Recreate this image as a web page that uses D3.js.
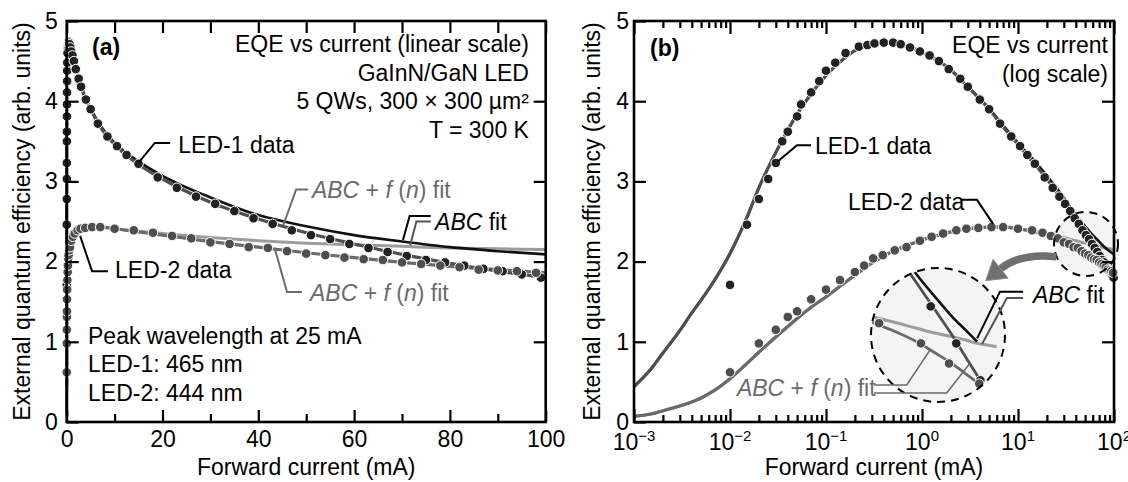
<!DOCTYPE html>
<html>
<head>
<meta charset="utf-8">
<script src="https://cdn.jsdelivr.net/npm/d3@7/dist/d3.min.js"></script>
<style>
  html, body { margin: 0; padding: 0; background: #fff; }
  svg text { font-family: "Liberation Sans", Arial, Helvetica, sans-serif; white-space: pre; }
</style>
</head>
<body>
<svg id="chart" width="1128" height="482"></svg>
<script>
// ---- measured EQE (forward current in mA, EQE in arb. units) ----
const led1Current = [0.01, 0.015, 0.02, 0.025, 0.03, 0.035, 0.04, 0.05, 0.055, 0.07,
  0.085, 0.1, 0.125, 0.16, 0.22, 0.27, 0.32, 0.4, 0.5, 0.6,
  0.75, 0.95, 1.2, 1.5, 1.9, 2.5, 3, 4, 5, 6.5,
  8.5, 10.5, 12.5, 15, 19, 23, 27, 31, 35, 39,
  43, 47, 51, 55, 59, 63, 67, 71, 75, 79,
  83, 87, 91, 95, 99];
const led1EQE = [1.71, 2.46, 2.78, 3.03, 3.23, 3.50, 3.62, 3.81, 3.96, 4.11,
  4.25, 4.38, 4.48, 4.60, 4.68, 4.70, 4.72, 4.73, 4.73, 4.71,
  4.67, 4.62, 4.57, 4.50, 4.40, 4.28, 4.18, 4.02, 3.90, 3.72,
  3.56, 3.44, 3.33, 3.22, 3.05, 2.92, 2.81, 2.72, 2.63, 2.54,
  2.47, 2.39, 2.33, 2.28, 2.22, 2.17, 2.12, 2.07, 2.02, 1.99,
  1.95, 1.91, 1.88, 1.84, 1.80];

const led2Current = [0.01, 0.02, 0.03, 0.04, 0.05, 0.07, 0.1, 0.14, 0.2, 0.25,
  0.31, 0.39, 0.52, 0.69, 0.95, 1.26, 1.66, 2.28, 2.9, 3.86,
  5.3, 7, 10, 14, 18, 22, 26, 30, 34, 38,
  42, 46, 50, 54, 58, 62, 66, 70, 74, 78,
  82, 86, 90, 94, 98];
const led2EQE = [0.62, 0.98, 1.15, 1.31, 1.38, 1.53, 1.65, 1.77, 1.87, 1.95,
  2.04, 2.08, 2.14, 2.18, 2.26, 2.31, 2.35, 2.39, 2.41, 2.42,
  2.43, 2.43, 2.41, 2.39, 2.36, 2.32, 2.29, 2.24, 2.22, 2.18,
  2.17, 2.13, 2.10, 2.08, 2.05, 2.03, 2.02, 1.99, 1.97, 1.95,
  1.93, 1.90, 1.89, 1.88, 1.86];

// ---- model curves sampled on a common current grid ----
const fitCurrent = [0.001, 0.0015, 0.002, 0.003, 0.004, 0.005, 0.007, 0.01, 0.015, 0.02,
  0.03, 0.04, 0.05, 0.07, 0.1, 0.15, 0.2, 0.3, 0.4, 0.5,
  0.7, 1, 1.5, 2, 3, 5, 7, 10, 15, 20,
  30, 40, 50, 60, 70, 80, 90, 100];
const led1FitABCf = [0.44, 0.66, 0.86, 1.14, 1.36, 1.52, 1.78, 2.10, 2.55, 2.92,
  3.36, 3.64, 3.84, 4.09, 4.32, 4.52, 4.63, 4.71, 4.73, 4.73,
  4.69, 4.61, 4.50, 4.39, 4.18, 3.90, 3.68, 3.46, 3.21, 3.03,
  2.74, 2.53, 2.36, 2.22, 2.09, 1.98, 1.88, 1.80];
const led1FitABC = [0.44, 0.66, 0.86, 1.14, 1.36, 1.52, 1.78, 2.10, 2.55, 2.92,
  3.36, 3.64, 3.84, 4.09, 4.32, 4.52, 4.63, 4.71, 4.73, 4.73,
  4.69, 4.61, 4.50, 4.39, 4.18, 3.91, 3.70, 3.48, 3.25, 3.07,
  2.80, 2.58, 2.44, 2.33, 2.25, 2.18, 2.13, 2.09];
const led2FitABCf = [0.07, 0.10, 0.14, 0.20, 0.25, 0.30, 0.40, 0.54, 0.73, 0.87,
  1.06, 1.19, 1.29, 1.43, 1.56, 1.72, 1.83, 1.98, 2.07, 2.13,
  2.20, 2.27, 2.33, 2.37, 2.41, 2.43, 2.43, 2.41, 2.37, 2.33,
  2.25, 2.18, 2.11, 2.05, 1.99, 1.94, 1.90, 1.86];
const led2FitABC = [0.07, 0.10, 0.14, 0.20, 0.25, 0.30, 0.40, 0.54, 0.73, 0.87,
  1.06, 1.19, 1.29, 1.43, 1.56, 1.72, 1.83, 1.98, 2.07, 2.13,
  2.20, 2.27, 2.33, 2.37, 2.41, 2.43, 2.43, 2.41, 2.38, 2.35,
  2.30, 2.26, 2.23, 2.21, 2.19, 2.17, 2.16, 2.15];

// data points repeated in the magnified view of panel (b)
const insetLed1Current = [47, 63, 83];
const insetLed2Current = [26, 42, 58, 82];

// ---- axis ticks ----
const yTickValues = [0, 1, 2, 3, 4, 5];
const yInnerTicks = [1, 2, 3, 4];
const linMajorTicks = [0, 20, 40, 60, 80, 100];
const linMinorTicks = [10, 30, 50, 70, 90];
const logMajorTicks = [1e-3, 1e-2, 1e-1, 1e0, 1e1, 1e2];
const logExponentLabels = ["\u22123", "\u22122", "\u22121", "0", "1", "2"];

// ---- layout ----
const FS = 23;
const yTop = 21, yBot = 422;
const svg = d3.select("#chart");
const y = d3.scaleLinear().domain([0, 5]).range([yBot, yTop]);
const xa = d3.scaleLinear().domain([0, 100]).range([66.7, 545.7]);
const xb = d3.scaleLog().domain([1e-3, 1e2]).range([634, 1114]);

const zip = (xs, ys) => xs.map((x, i) => ({ x, y: ys[i] }));
const led1 = zip(led1Current, led1EQE);
const led2 = zip(led2Current, led2EQE);
const fit1f = zip(fitCurrent, led1FitABCf);
const fit1 = zip(fitCurrent, led1FitABC);
const fit2f = zip(fitCurrent, led2FitABCf);
const fit2 = zip(fitCurrent, led2FitABC);

const COL = {
  led1: "#222222", led2: "#4e4e4e",
  fit1f: "#4f4f4f", fit2f: "#6a6a6a",
  fit1: "#111111", fit2: "#9c9c9c",
  grayText: "#6b6b6b", arrow: "#6f6f6f"
};

// ---------- helpers ----------
function label(g, pos, parts, opt = {}) {
  const t = g.append("text")
    .attr("x", pos[0]).attr("y", pos[1])
    .attr("font-size", opt.size || FS)
    .attr("fill", opt.color || "#000")
    .attr("text-anchor", opt.anchor || "start")
    .attr("font-weight", opt.weight || "normal");
  parts.forEach(p => {
    if (typeof p === "string") t.append("tspan").text(p);
    else t.append("tspan").attr("font-style", "italic").text(p.i);
  });
  return t;
}
function leader(g, pts, color = "#000", w = 2) {
  g.append("path").attr("d", d3.line()(pts))
    .attr("fill", "none").attr("stroke", color).attr("stroke-width", w)
    .attr("stroke-linejoin", "miter");
}
function styleAxis(sel) {
  sel.attr("font-family", null).attr("font-size", FS);
  sel.select(".domain").remove();
  sel.selectAll(".tick line").attr("stroke", "#000").attr("stroke-width", 2.2);
  sel.selectAll(".tick text").attr("fill", "#000");
}
function drawCurves(g, xs) {
  const line = d3.line().x(d => xs(d.x)).y(d => y(d.y)).curve(d3.curveMonotoneX);
  [[fit2, COL.fit2, 3], [fit1, COL.fit1, 2.6], [fit2f, COL.fit2f, 3.2], [fit1f, COL.fit1f, 3.2]]
    .forEach(([d, c, w]) => g.append("path").attr("d", line(d))
      .attr("fill", "none").attr("stroke", c).attr("stroke-width", w));
}
function drawDots(g, xs, data, color, r = 4.8) {
  g.selectAll(null).data(data).enter().append("circle")
    .attr("cx", d => xs(d.x)).attr("cy", d => y(d.y)).attr("r", r)
    .attr("fill", color).attr("stroke", "#fff").attr("stroke-width", 1);
}
function yAxes(g, x0, x1, pad) {
  g.append("g").attr("transform", `translate(${x0},0)`)
    .call(d3.axisLeft(y).tickValues(yTickValues).tickSize(-12).tickPadding(pad).tickFormat(d3.format("d")))
    .call(styleAxis);
  g.append("g").attr("transform", `translate(${x1},0)`)
    .call(d3.axisRight(y).tickValues(yInnerTicks).tickSize(-12).tickFormat(""))
    .call(styleAxis);
}
function frame(g, x0, x1) {
  g.append("rect").attr("x", x0).attr("y", yTop)
    .attr("width", x1 - x0).attr("height", yBot - yTop)
    .attr("fill", "none").attr("stroke", "#000").attr("stroke-width", 2.6);
}
function yTitle(g, x) {
  g.append("text").attr("transform", `translate(${x},${(yTop + yBot) / 2}) rotate(-90)`)
    .attr("text-anchor", "middle").attr("font-size", FS)
    .text("External quantum efficiency (arb. units)");
}
function xTitle(g, cx) {
  g.append("text").attr("x", cx).attr("y", 475).attr("text-anchor", "middle")
    .attr("font-size", FS).text("Forward current (mA)");
}

// ================= panel (a): linear current axis =================
const ga = svg.append("g");
const pa = (i, e) => [xa(i), y(e)];

drawCurves(ga, xa);
drawDots(ga, xa, led1, COL.led1);
drawDots(ga, xa, led2, COL.led2);

ga.append("g").attr("transform", `translate(0,${yBot})`)
  .call(d3.axisBottom(xa).tickValues(linMajorTicks).tickSize(-12).tickPadding(9).tickFormat(d3.format("d")))
  .call(styleAxis);
ga.append("g").attr("transform", `translate(0,${yBot})`)
  .call(d3.axisBottom(xa).tickValues(linMinorTicks).tickSize(-8).tickFormat(""))
  .call(styleAxis);
ga.append("g").attr("transform", `translate(0,${yTop})`)
  .call(d3.axisTop(xa).tickValues(linMajorTicks.concat(linMinorTicks)).tickSize(-12).tickFormat(""))
  .call(styleAxis);
yAxes(ga, xa(0), xa(100), 9);
frame(ga, xa(0), xa(100));
yTitle(ga, 30);
xTitle(ga, (xa(0) + xa(100)) / 2);

label(ga, pa(5.3, 4.57), ["(a)"], { weight: "bold" });
["EQE vs current (linear scale)", "GaInN/GaN LED", "5 QWs, 300 \u00d7 300 \u00b5m\u00b2", "T = 300 K"]
  .forEach((s, i) => label(ga, pa(96.5, [4.61, 4.255, 3.90, 3.545][i]), [s], { anchor: "end" }));

label(ga, pa(23.3, 3.36), ["LED-1 data"]);
leader(ga, [pa(21.6, 3.48), pa(18.4, 3.48), pa(15.1, 3.24)]);

label(ga, pa(51.2, 2.79), [{ i: "ABC" }, " + ", { i: "f" }, " (", { i: "n" }, ") fit"], { color: COL.grayText });
leader(ga, [pa(50.4, 2.90), pa(47.9, 2.90), pa(45.2, 2.45)], COL.grayText);

label(ga, pa(76.9, 2.40), [{ i: "ABC" }, " fit"]);
leader(ga, [pa(76.0, 2.57), pa(71.6, 2.57), pa(70.2, 2.27)]);
leader(ga, [pa(76.0, 2.50), pa(73.0, 2.50), pa(71.7, 2.20)], "#555");

label(ga, pa(10.1, 1.80), ["LED-2 data"]);
leader(ga, [pa(8.6, 1.88), pa(5.3, 1.88), pa(2.8, 2.32)]);

label(ga, pa(50.8, 1.51), [{ i: "ABC" }, " + ", { i: "f" }, " (", { i: "n" }, ") fit"], { color: COL.grayText });
leader(ga, [pa(49.1, 1.62), pa(46.0, 1.62), pa(43.5, 2.15)], COL.grayText);

["Peak wavelength at 25 mA", "LED-1: 465 nm", "LED-2: 444 nm"]
  .forEach((s, i) => label(ga, pa(4.45, [0.97, 0.62, 0.26][i]), [s]));

// ================= panel (b): logarithmic current axis =================
const gb = svg.append("g");
const pb = (i, e) => [xb(i), y(e)];

// dashed circle marking the zoomed region, and the magnified view
const smallC = { c: pb(51.1, 2.22), r: 32 };
const bigC = { c: pb(1.468, 1.085), r: 67 };
const k = bigC.r / smallC.r;
const mag = (px, py) => [bigC.c[0] + k * (px - smallC.c[0]), bigC.c[1] + k * (py - smallC.c[1])];

gb.append("circle").attr("cx", smallC.c[0]).attr("cy", smallC.c[1]).attr("r", smallC.r)
  .attr("fill", "#f4f4f4");

drawCurves(gb, xb);
drawDots(gb, xb, led1, COL.led1);
drawDots(gb, xb, led2, COL.led2);

gb.append("circle").attr("cx", smallC.c[0]).attr("cy", smallC.c[1]).attr("r", smallC.r)
  .attr("fill", "none").attr("stroke", "#000").attr("stroke-width", 2).attr("stroke-dasharray", "8,6");

// curved arrow towards the magnified view
{
  const s = [smallC.c[0] - 0.92 * smallC.r, smallC.c[1] + 0.4 * smallC.r];
  const c = [s[0] - 36, s[1] - 4];
  const e = [s[0] - 56, s[1] + 12];
  const dx = e[0] - c[0], dy = e[1] - c[1], L = Math.hypot(dx, dy);
  const u = [dx / L, dy / L], n = [-u[1], u[0]];
  const tip = [e[0] + 19 * u[0], e[1] + 19 * u[1]];
  gb.append("path").attr("d", `M${s}Q${c} ${e}`).attr("fill", "none")
    .attr("stroke", COL.arrow).attr("stroke-width", 7.5);
  gb.append("path")
    .attr("d", `M${tip}L${[e[0] + 12 * n[0], e[1] + 12 * n[1]]}L${[e[0] - 12 * n[0], e[1] - 12 * n[1]]}Z`)
    .attr("fill", COL.arrow).attr("stroke", "#8a8a8a").attr("stroke-width", 1);
}

{
  const gi = gb.append("g");
  gi.append("clipPath").attr("id", "inset-clip").append("circle")
    .attr("cx", bigC.c[0]).attr("cy", bigC.c[1]).attr("r", bigC.r);
  gi.append("circle").attr("cx", bigC.c[0]).attr("cy", bigC.c[1]).attr("r", bigC.r).attr("fill", "#f4f4f4");
  const inner = gi.append("g").attr("clip-path", "url(#inset-clip)");
  const mx = d => mag(xb(d.x), y(d.y))[0];
  const my = d => mag(xb(d.x), y(d.y))[1];
  const line = d3.line().x(mx).y(my).curve(d3.curveMonotoneX);
  [[fit2, COL.fit2, 3, 100], [fit1, COL.fit1, 2.6, 80], [fit2f, COL.fit2f, 2.8, 100], [fit1f, COL.fit1f, 2.8, 100]]
    .forEach(([d, c, w, hi]) => inner.append("path")
      .attr("d", line(d.filter(p => p.x >= 20 && p.x <= hi)))
      .attr("fill", "none").attr("stroke", c).attr("stroke-width", w));
  const dots = (data, color) => inner.selectAll(null).data(data).enter().append("circle")
    .attr("cx", mx).attr("cy", my).attr("r", 4.8)
    .attr("fill", color).attr("stroke", "#fff").attr("stroke-width", 1);
  dots(led1.filter(d => insetLed1Current.includes(d.x)), COL.led1);
  dots(led2.filter(d => insetLed2Current.includes(d.x)), COL.led2);
  gi.append("circle").attr("cx", bigC.c[0]).attr("cy", bigC.c[1]).attr("r", bigC.r)
    .attr("fill", "none").attr("stroke", "#000").attr("stroke-width", 2).attr("stroke-dasharray", "8,6");
}

// axes
const logMinor = xb.ticks().filter(v => !logMajorTicks.some(m => Math.abs(m - v) / m < 1e-9));
gb.append("g").attr("transform", `translate(0,${yBot})`)
  .call(d3.axisBottom(xb).tickValues(logMajorTicks).tickSize(-13).tickFormat(""))
  .call(styleAxis);
gb.append("g").attr("transform", `translate(0,${yBot})`)
  .call(d3.axisBottom(xb).tickValues(logMinor).tickSize(-7).tickFormat(""))
  .call(styleAxis);
gb.append("g").attr("transform", `translate(0,${yTop})`)
  .call(d3.axisTop(xb).tickValues(logMajorTicks).tickSize(-13).tickFormat(""))
  .call(styleAxis);
gb.append("g").attr("transform", `translate(0,${yTop})`)
  .call(d3.axisTop(xb).tickValues(logMinor).tickSize(-7).tickFormat(""))
  .call(styleAxis);
logMajorTicks.forEach((v, i) => {
  const t = gb.append("text").attr("x", xb(v)).attr("y", 450).attr("text-anchor", "middle")
    .attr("font-size", FS);
  t.append("tspan").text("10");
  t.append("tspan").attr("font-size", 15).attr("dy", -9).text(logExponentLabels[i]);
});
yAxes(gb, xb(1e-3), xb(1e2), 5);
frame(gb, xb(1e-3), xb(1e2));
yTitle(gb, 600);
xTitle(gb, (xb(1e-3) + xb(1e2)) / 2);

label(gb, pb(0.00147, 4.56), ["(b)"], { weight: "bold" });
label(gb, pb(86.6, 4.60), ["EQE vs current"], { anchor: "end" });
label(gb, pb(86.6, 4.245), ["(log scale)"], { anchor: "end" });

label(gb, pb(0.0767, 3.34), ["LED-1 data"]);
leader(gb, [pb(0.0698, 3.45), pb(0.0499, 3.45), pb(0.0316, 3.25)]);

label(gb, pb(0.169, 2.64), ["LED-2 data"]);
leader(gb, [pb(2.61, 2.77), pb(3.74, 2.77), pb(5.5, 2.47)]);

label(gb, pb(14.3, 1.49), [{ i: "ABC" }, " fit"]);
leader(gb, [pb(11.3, 1.625), pb(6.49, 1.625), mag(xb(80), y(2.20))]);
leader(gb, [pb(11.3, 1.546), pb(7.67, 1.546), mag(xb(84.5), y(2.165))], "#555");

label(gb, pb(0.0118, 0.33), [{ i: "ABC" }, " + ", { i: "f" }, " (", { i: "n" }, ") fit"], { color: COL.grayText });
leader(gb, [pb(0.316, 0.461), pb(0.693, 0.461), mag(xb(46.6), y(2.13))], COL.grayText, 1.6);
leader(gb, [pb(0.316, 0.362), pb(1.81, 0.362), mag(xb(73.5), y(2.05))], COL.grayText, 1.6);
</script>
</body>
</html>
